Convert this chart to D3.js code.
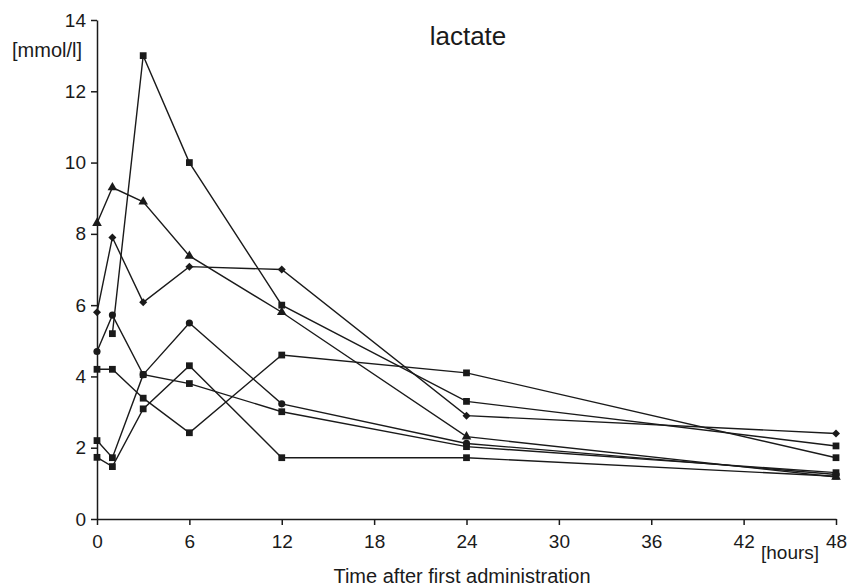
<!DOCTYPE html>
<html>
<head>
<meta charset="utf-8">
<script src="https://cdn.jsdelivr.net/npm/d3@7"></script>
<style>
  body { margin: 0; background: #fff; }
  text { font-family: "Liberation Sans", Arial, sans-serif; fill: #1a1a1a; }
</style>
</head>
<body>
<div id="vis"></div>
<script>
// data
let hours = [0, 1, 3, 6, 12, 24, 48]
let xTicks = [0, 6, 12, 18, 24, 30, 36, 42, 48]
let yTicks = [0, 2, 4, 6, 8, 10, 12, 14]

let patA = [null, 5.2, 13.0, 10.0, 6.0, 3.3, 2.05]   // squares, big peak
let patB = [8.3, 9.3, 8.9, 7.38, 5.8, 2.31, 1.18]    // triangles
let patC = [5.8, 7.9, 6.08, 7.08, 7.0, 2.9, 2.4]     // diamonds
let patD = [4.7, 5.72, 4.05, 5.5, 3.23, 2.12, 1.25]  // circles
let patE = [4.2, 4.2, 3.39, 2.42, 4.6, 4.1, 1.72]    // squares
let patF = [2.2, 1.72, 4.05, 3.8, 3.01, 2.03, 1.3]   // squares
let patG = [1.73, 1.47, 3.09, 4.3, 1.72, 1.72, 1.2]  // squares

let series = [
    {values: patA, shape: 'square'},
    {values: patB, shape: 'triangle'},
    {values: patC, shape: 'diamond'},
    {values: patD, shape: 'circle'},
    {values: patE, shape: 'square'},
    {values: patF, shape: 'square'},
    {values: patG, shape: 'square'}
]

let svgWidth = 860
let svgHeight = 587

let margin = {left: 97, right: 24, top: 20, bottom: 68}
let width = svgWidth - margin.left - margin.right
let height = svgHeight - margin.top - margin.bottom

let svg = d3.select('#vis')
    .append('svg')
    .attr('width', svgWidth)
    .attr('height', svgHeight)

let g = svg.append('g')
    .attr('transform', `translate(${margin.left},${margin.top})`)

// scales
let xScale = d3.scaleLinear().domain([0, 48]).range([0, width])
let yScale = d3.scaleLinear().domain([0, 14]).range([height, 0])

let ink = '#1a1a1a'

// axes
let xAxis = g.append('g')
    .attr('transform', `translate(0,${height})`)
    .call(d3.axisBottom(xScale).tickValues(xTicks).tickSize(6).tickSizeOuter(0))
xAxis.selectAll('text').attr('y', 15.5).style('font-size', '19px')

let yAxis = g.append('g')
    .call(d3.axisLeft(yScale).tickValues(yTicks).tickSize(6).tickSizeOuter(0).tickPadding(5))
yAxis.selectAll('text').style('font-size', '19px')

g.selectAll('.domain, .tick line').attr('stroke', ink).attr('stroke-width', 1.5)
g.selectAll('.tick text').attr('fill', ink)

// lines
let line = d3.line()
    .defined(d => d.v != null)
    .x(d => xScale(d.h))
    .y(d => yScale(d.v))

let symbols = {
    square: d3.symbol().type(d3.symbolSquare).size(46),
    triangle: d3.symbol().type(d3.symbolTriangle).size(40),
    diamond: d3.symbol().type(d3.symbolSquare).size(32),   // rotated below
    circle: d3.symbol().type(d3.symbolCircle).size(40)
}

series.forEach(s => {
    let pts = hours.map((h, i) => ({h: h, v: s.values[i]}))
    g.append('path')
        .datum(pts)
        .attr('fill', 'none')
        .attr('stroke', ink)
        .attr('stroke-width', 1.4)
        .attr('d', line)

    let rot = s.shape == 'diamond' ? ' rotate(45)' : ''
    g.selectAll(null)
        .data(pts.filter(d => d.v != null))
        .join('path')
        .attr('transform', d => `translate(${xScale(d.h)},${yScale(d.v)})` + rot)
        .attr('d', symbols[s.shape])
        .attr('fill', ink)
})

// labels
svg.append('text')
    .attr('x', 468).attr('y', 45)
    .attr('text-anchor', 'middle')
    .style('font-size', '26px')
    .text('lactate')

svg.append('text')
    .attr('x', 12).attr('y', 57)
    .style('font-size', '20px')
    .text('[mmol/l]')

svg.append('text')
    .attr('x', 761).attr('y', 559)
    .style('font-size', '19px')
    .text('[hours]')

svg.append('text')
    .attr('x', 462).attr('y', 583)
    .attr('text-anchor', 'middle')
    .style('font-size', '20px')
    .text('Time after first administration')
</script>
</body>
</html>
